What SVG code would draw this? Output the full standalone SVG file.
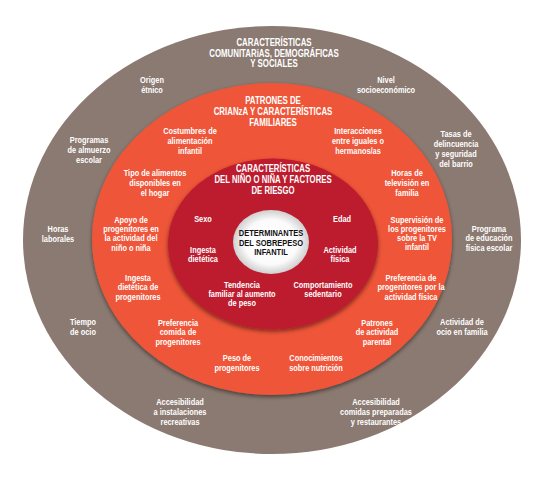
<svg xmlns="http://www.w3.org/2000/svg" width="546" height="477" viewBox="0 0 546 477">
<defs>
<filter id="sh" x="-10%" y="-10%" width="120%" height="125%">
<feGaussianBlur in="SourceAlpha" stdDeviation="2"/>
<feOffset dx="0" dy="1.5" result="b"/>
<feComponentTransfer><feFuncA type="linear" slope="0.5"/></feComponentTransfer>
<feMerge><feMergeNode/><feMergeNode in="SourceGraphic"/></feMerge>
</filter>
<radialGradient id="wg" cx="50%" cy="50%" r="50%">
<stop offset="0" stop-color="#ffffff"/>
<stop offset="0.7" stop-color="#fbfbfb"/>
<stop offset="1" stop-color="#cfcfcf"/>
</radialGradient>
<style>
text{font-family:'Liberation Sans',Arial,sans-serif;text-anchor:middle;fill:#fff;font-weight:bold;}
.t{font-size:10.5px;}
.l{font-size:8.2px;}
.c{font-size:8.6px;fill:#111;}
</style>
</defs>
<rect width="546" height="477" fill="#fff"/>
<g id="ring-comunitarias">
<ellipse cx="272" cy="240" rx="249" ry="214" fill="#8b7a71"/>
<text class="t" transform="translate(274 0) scale(0.75 1)"><tspan x="0" y="46">CARACTERÍSTICAS</tspan><tspan x="0" y="57">COMUNITARiAS,  DEMOGRÁFICAS</tspan><tspan x="0" y="67.5">Y SOCIALES</tspan></text>
<text class="l" transform="translate(152 0) scale(0.9 1)"><tspan x="0" y="83">Origen</tspan><tspan x="0" y="93">étnico</tspan></text>
<text class="l" transform="translate(386 0) scale(0.9 1)"><tspan x="0" y="83">Nivel</tspan><tspan x="0" y="93">socioeconómico</tspan></text>
<text class="l" transform="translate(89 0) scale(0.9 1)"><tspan x="0" y="143">Programas</tspan><tspan x="0" y="153">de almuerzo</tspan><tspan x="0" y="163">escolar</tspan></text>
<text class="l" transform="translate(456 0) scale(0.9 1)"><tspan x="0" y="137">Tasas de</tspan><tspan x="0" y="147">delincuencia</tspan><tspan x="0" y="157">y seguridad</tspan><tspan x="0" y="167">del barrio</tspan></text>
<text class="l" transform="translate(58 0) scale(0.9 1)"><tspan x="0" y="232">Horas</tspan><tspan x="0" y="242">laborales</tspan></text>
<text class="l" transform="translate(489 0) scale(0.9 1)"><tspan x="0" y="232">Programa</tspan><tspan x="0" y="241.5">de educación</tspan><tspan x="0" y="251">física escolar</tspan></text>
<text class="l" transform="translate(83 0) scale(0.9 1)"><tspan x="0" y="325">Tiempo</tspan><tspan x="0" y="335">de ocio</tspan></text>
<text class="l" transform="translate(462 0) scale(0.9 1)"><tspan x="0" y="325">Actividad de</tspan><tspan x="0" y="335">ocio en familia</tspan></text>
<text class="l" transform="translate(180 0) scale(0.9 1)"><tspan x="0" y="405">Accesibilidad</tspan><tspan x="0" y="415">a instalaciones</tspan><tspan x="0" y="425">recreativas</tspan></text>
<text class="l" transform="translate(376 0) scale(0.9 1)"><tspan x="0" y="405">Accesibilidad</tspan><tspan x="0" y="415">comidas preparadas</tspan><tspan x="0" y="425">y restaurantes</tspan></text>
</g>
<g id="ring-familiares">
<ellipse cx="272" cy="239" rx="180" ry="156" fill="#ef5538" filter="url(#sh)"/>
<text class="t" transform="translate(273 0) scale(0.75 1)"><tspan x="0" y="104">PATRONES DE</tspan><tspan x="0" y="115">CRIANzA Y CARACTERÍSTICAS</tspan><tspan x="0" y="126">FAMILIARES</tspan></text>
<text class="l" transform="translate(190 0) scale(0.9 1)"><tspan x="0" y="134">Costumbres de</tspan><tspan x="0" y="144">alimentación</tspan><tspan x="0" y="154">infantil</tspan></text>
<text class="l" transform="translate(358 0) scale(0.9 1)"><tspan x="0" y="134">Interacciones</tspan><tspan x="0" y="144">entre iguales o</tspan><tspan x="0" y="154">hermanos/as</tspan></text>
<text class="l" transform="translate(155 0) scale(0.9 1)"><tspan x="0" y="176">Tipo de alimentos</tspan><tspan x="0" y="186">disponibles en</tspan><tspan x="0" y="196">el hogar</tspan></text>
<text class="l" transform="translate(407 0) scale(0.9 1)"><tspan x="0" y="176">Horas de</tspan><tspan x="0" y="186">televisión en</tspan><tspan x="0" y="196">familia</tspan></text>
<text class="l" transform="translate(131 0) scale(0.9 1)"><tspan x="0" y="223">Apoyo de</tspan><tspan x="0" y="232">progenitores en</tspan><tspan x="0" y="241.5">la actividad del</tspan><tspan x="0" y="251">niño o niña</tspan></text>
<text class="l" transform="translate(417 0) scale(0.9 1)"><tspan x="0" y="223">Supervisión de</tspan><tspan x="0" y="232">los progenitores</tspan><tspan x="0" y="241">sobre la TV</tspan><tspan x="0" y="250">infantil</tspan></text>
<text class="l" transform="translate(138 0) scale(0.9 1)"><tspan x="0" y="281">Ingesta</tspan><tspan x="0" y="290.5">dietética de</tspan><tspan x="0" y="300">progenitores</tspan></text>
<text class="l" transform="translate(411 0) scale(0.9 1)"><tspan x="0" y="281">Preferencia de</tspan><tspan x="0" y="290.5">progenitores por la</tspan><tspan x="0" y="300">actividad física</tspan></text>
<text class="l" transform="translate(178 0) scale(0.9 1)"><tspan x="0" y="326">Preferencia</tspan><tspan x="0" y="335.5">comida de</tspan><tspan x="0" y="345">progenitores</tspan></text>
<text class="l" transform="translate(377 0) scale(0.9 1)"><tspan x="0" y="326">Patrones</tspan><tspan x="0" y="335.5">de actividad</tspan><tspan x="0" y="345">parental</tspan></text>
<text class="l" transform="translate(237 0) scale(0.9 1)"><tspan x="0" y="361">Peso de</tspan><tspan x="0" y="371">progenitores</tspan></text>
<text class="l" transform="translate(316 0) scale(0.9 1)"><tspan x="0" y="361">Conocimientos</tspan><tspan x="0" y="371">sobre nutrición</tspan></text>
</g>
<g id="ring-nino">
<ellipse cx="273" cy="244" rx="105" ry="85.5" fill="#bd1c2e" filter="url(#sh)"/>
<text class="t" transform="translate(273 0) scale(0.74 1)"><tspan x="0" y="172">CARACTERÍSTICAS</tspan><tspan x="0" y="183">DEL NIÑO O NIÑA Y FACTORES</tspan><tspan x="0" y="194">DE RIESGO</tspan></text>
<text class="l" transform="translate(203 0) scale(0.9 1)" x="0" y="222">Sexo</text>
<text class="l" transform="translate(203 0) scale(0.9 1)"><tspan x="0" y="253">Ingesta</tspan><tspan x="0" y="262">dietética</tspan></text>
<text class="l" transform="translate(342 0) scale(0.9 1)" x="0" y="222">Edad</text>
<text class="l" transform="translate(340 0) scale(0.9 1)"><tspan x="0" y="253">Actividad</tspan><tspan x="0" y="262">física</tspan></text>
<text class="l" transform="translate(242 0) scale(0.9 1)"><tspan x="0" y="288">Tendencia</tspan><tspan x="0" y="297">familiar al aumento</tspan><tspan x="0" y="306">de peso</tspan></text>
<text class="l" transform="translate(323 0) scale(0.9 1)"><tspan x="0" y="288">Comportamiento</tspan><tspan x="0" y="297">sedentario</tspan></text>
</g>
<g id="centro">
<ellipse cx="271" cy="242" rx="38" ry="32" fill="url(#wg)"/>
<text class="c" transform="translate(271 0) scale(0.87 1)"><tspan x="0" y="236">DETERMINANTES</tspan><tspan x="0" y="246">DEL SOBREPESO</tspan><tspan x="0" y="255.5">INFANTIL</tspan></text>
</g>
<g id="connectors"/>
</svg>
